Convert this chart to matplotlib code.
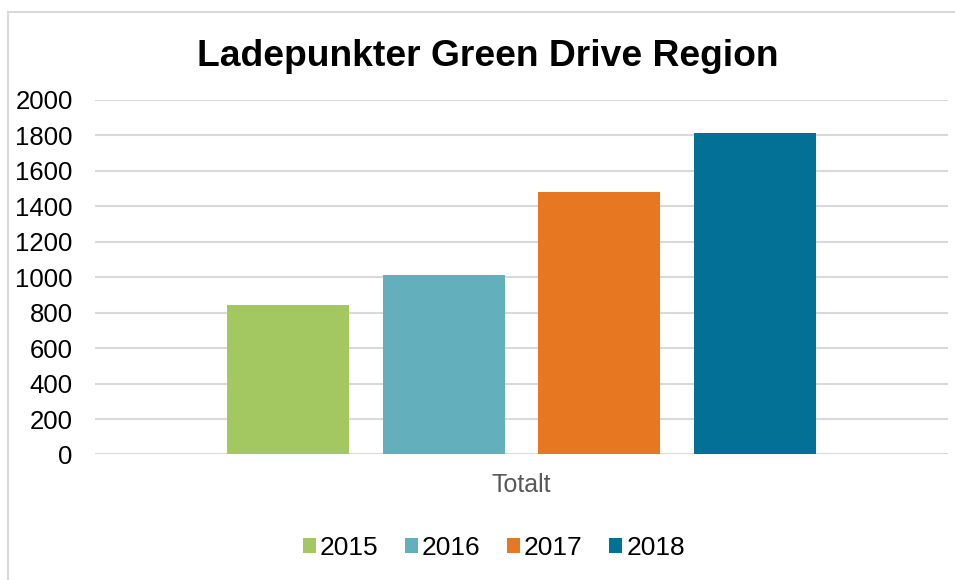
import matplotlib.pyplot as plt
from matplotlib.lines import Line2D
from matplotlib.patches import Patch

# data
category = 'Totalt'
years = ['2015', '2016', '2017', '2018']
values = [844, 1014, 1480, 1815]
colors = ['#A3C862', '#63B0BC', '#E87722', '#037096']
yticks = [0, 200, 400, 600, 800, 1000, 1200, 1400, 1600, 1800, 2000]

plt.rcParams['font.family'] = ['Liberation Sans', 'DejaVu Sans']

fig = plt.figure(figsize=(9.55, 5.8), dpi=100)
ax = fig.add_axes([0.0995, 0.2164, 0.8932, 0.6112])

bar_w = 0.143
step = 0.1823
for i, (yr, v, c) in enumerate(zip(years, values, colors)):
    ax.bar((i - 1.5) * step, v, width=bar_w, color=c, label=yr, zorder=3)

ax.set_xlim(-0.5, 0.5)
ax.set_ylim(0, 2000)
ax.set_yticks(yticks)
ax.set_yticklabels([str(t) for t in yticks], fontsize=18.5, color='#000000')
ax.set_xticks([0])
ax.set_xticklabels([category], fontsize=18, color='#595959')
ax.tick_params(axis='y', length=0, pad=16)
ax.tick_params(axis='x', length=0, pad=13)
ax.grid(axis='y', color='#D9D9D9', linewidth=1.5, zorder=0)
for s in ax.spines.values():
    s.set_visible(False)

fig.text(0.5105, 0.903, 'Ladepunkter Green Drive Region', ha='center', va='center',
         fontsize=26.8, fontweight='bold', color='#000000')

handles = [Patch(facecolor=c, edgecolor='none') for c in colors]
fig.legend(handles, years, loc='center', bbox_to_anchor=(0.517, 0.055), ncol=4,
           frameon=False, fontsize=19, handlelength=0.5, handleheight=0.5,
           handletextpad=0.15, columnspacing=1.0)

# chart frame (top and left edges visible in the reference)
fig.add_artist(Line2D([8 / 955, 1.0], [1 - 12 / 580, 1 - 12 / 580],
                      transform=fig.transFigure, color='#D9D9D9', linewidth=1.5))
fig.add_artist(Line2D([8 / 955, 8 / 955], [0, 1 - 12 / 580],
                      transform=fig.transFigure, color='#D9D9D9', linewidth=1.5))

fig.savefig('out.png', dpi=100)
